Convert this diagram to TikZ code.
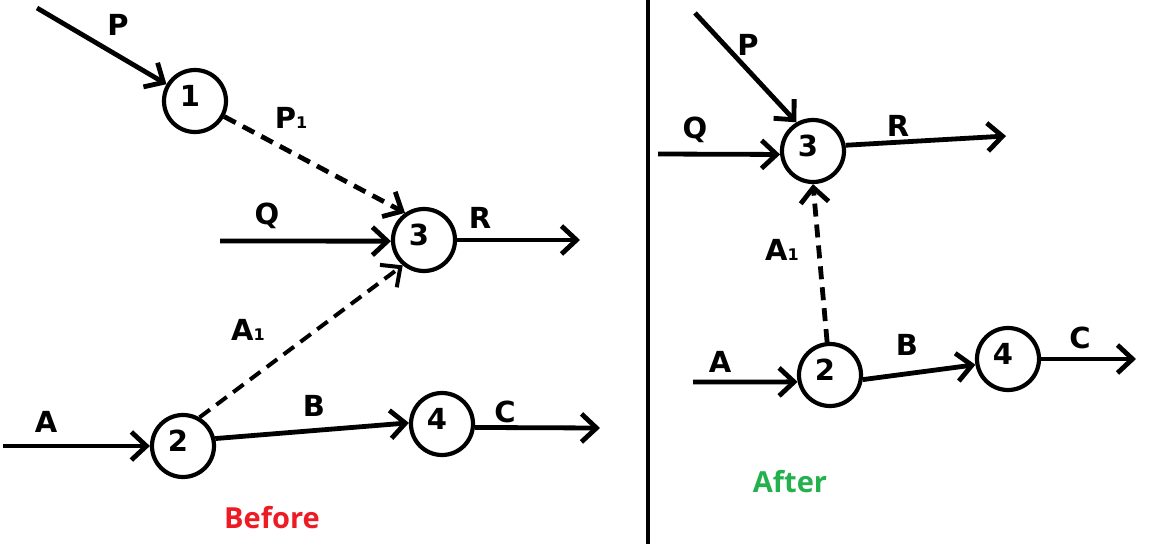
\documentclass[tikz,border=0pt]{standalone}
\usepackage{fontspec}
\newfontfamily\lblfont{DejaVu Sans}
\newfontfamily\capfont{Open Sans}
\usetikzlibrary{arrows.meta}
\definecolor{beforered}{HTML}{ED1C24}
\definecolor{aftergreen}{HTML}{22B14C}
\tikzset{
  ev/.style={circle,draw,line width=4.2pt,minimum size=62pt,inner sep=0pt,font=\lblfont\bfseries\fontsize{29}{29}\selectfont},
  arr/.style={line width=4.8pt,-{Straight Barb[length=15pt,width=28pt]}},
  dasharr/.style={arr,dash pattern=on 13pt off 8pt},
  lbl/.style={font=\lblfont\bfseries\fontsize{29}{29}\selectfont,inner sep=0pt},
  captext/.style={font=\capfont\bfseries\fontsize{29}{29}\selectfont,inner sep=0pt}
}
\newcommand{\subone}{{\fontsize{16}{16}\selectfont 1}}
\newcommand{\dg}[1]{\raisebox{-5pt}[0pt][0pt]{\makebox[0pt]{#1\hspace*{10pt}}}}
\begin{document}
\begin{tikzpicture}[x=1pt,y=-1pt]
\useasboundingbox[fill=white] (0,0) rectangle (1160,544);
% ---------- Before ----------
\node[ev] (L1) at (195,101) {\dg{1}};
\node[ev] (L3) at (424,240) {\dg{3}};
\node[ev] (L2) at (183,446) {\dg{2}};
\node[ev] (L4) at (442,424) {\dg{4}};
\coordinate (LPs) at (37,8);
\coordinate (LQs) at (220,241);
\coordinate (LRe) at (580,240);
\coordinate (LAs) at (3,446);
\coordinate (LCe) at (600,428);
\draw[arr] (LPs) -- (L1);
\draw[dasharr] (L1) -- (L3.125);
\draw[arr] (LQs) -- (L3.182);
\draw[arr] (L3.east) -- (LRe);
\draw[dasharr,line width=4pt] (L2.60) -- (L3.230);
\draw[arr] (LAs) -- (L2.west);
\draw[arr] (L2.13) -- (L4.178);
\draw[arr] (L4.-6) -- (LCe);
\node[lbl] (tP) at (118,25) {P};
\node[lbl] (tP1) at (291,118) {P\subone};
\node[lbl] (tQ) at (267,216) {Q};
\node[lbl] (tR) at (480,218) {R};
\node[lbl] (tA1) at (248,330) {A\subone};
\node[lbl] (tA) at (46,422) {A};
\node[lbl] (tB) at (314,406) {B};
\node[lbl] (tC) at (505,412) {C};
\node[captext,text=beforered] (tBefore) at (272,518) {Before};
% ---------- divider ----------
\coordinate (dTop) at (648,0);
\coordinate (dBot) at (648,544);
\draw[line width=4pt] (dTop) -- (dBot);
% ---------- After ----------
\node[ev] (R3) at (813,151) {\dg{3}};
\node[ev] (R2) at (830,375) {\dg{2}};
\node[ev] (R4) at (1008,359) {\dg{4}};
\coordinate (RPs) at (695,13);
\coordinate (RQs) at (658,154);
\coordinate (RRe) at (1006,136);
\coordinate (RAs) at (693,382);
\coordinate (RCe) at (1136,359);
\draw[arr] (RPs) -- (R3.120);
\draw[arr] (RQs) -- (R3.186);
\draw[arr] (R3.10) -- (RRe);
\draw[dasharr] (R2.95) -- (R3.south);
\draw[arr] (RAs) -- (R2.192);
\draw[arr] (R2.-8) -- (R4.190);
\draw[arr] (R4.east) -- (RCe);
\node[lbl] (sP) at (748,45) {P};
\node[lbl] (sQ) at (695,130) {Q};
\node[lbl] (sR) at (898,126) {R};
\node[lbl] (sA1) at (782,250) {A\subone};
\node[lbl] (sA) at (720,362) {A};
\node[lbl] (sB) at (907,345) {B};
\node[lbl] (sC) at (1080,338) {C};
\node[captext,text=aftergreen] (tAfter) at (790,482) {After};
\end{tikzpicture}
\end{document}
